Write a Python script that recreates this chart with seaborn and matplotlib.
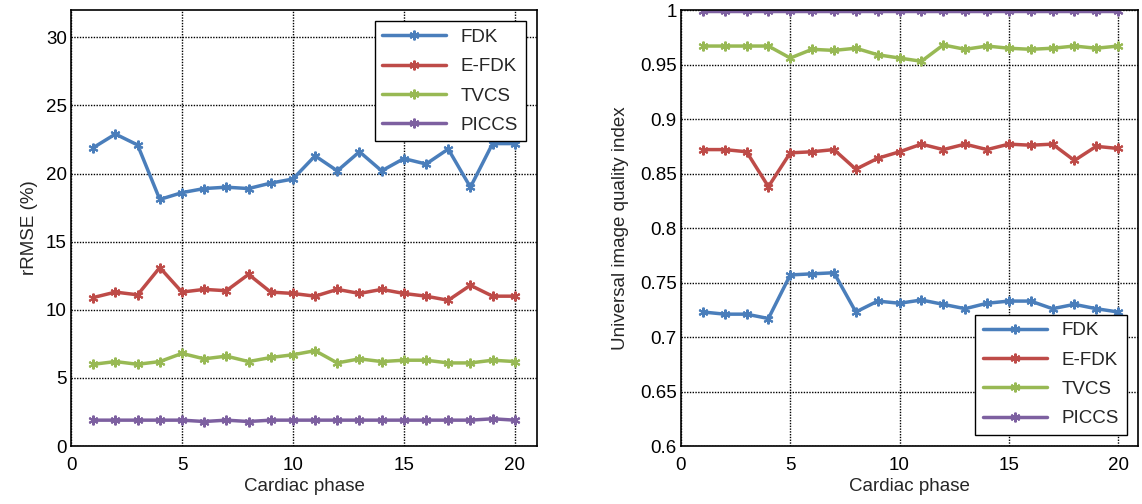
import matplotlib
matplotlib.use("Agg")
import matplotlib.pyplot as plt
import seaborn as sns
import pandas as pd

# Data
phases = list(range(1, 21))
methods = ["FDK", "E-FDK", "TVCS", "PICCS"]
colors = ["#4a7ebb", "#be4b48", "#98b954", "#7d60a0"]

rmse_fdk = [21.9, 22.9, 22.1, 18.1, 18.6, 18.9, 19.0, 18.9, 19.3, 19.6,
            21.3, 20.2, 21.6, 20.2, 21.1, 20.7, 21.8, 19.0, 22.2, 22.2]
rmse_efdk = [10.9, 11.3, 11.1, 13.1, 11.3, 11.5, 11.4, 12.6, 11.3, 11.2,
             11.0, 11.5, 11.2, 11.5, 11.2, 11.0, 10.7, 11.8, 11.0, 11.0]
rmse_tvcs = [6.0, 6.2, 6.0, 6.2, 6.8, 6.4, 6.6, 6.2, 6.5, 6.7,
             7.0, 6.1, 6.4, 6.2, 6.3, 6.3, 6.1, 6.1, 6.3, 6.2]
rmse_piccs = [1.9, 1.9, 1.9, 1.9, 1.9, 1.8, 1.9, 1.8, 1.9, 1.9,
              1.9, 1.9, 1.9, 1.9, 1.9, 1.9, 1.9, 1.9, 2.0, 1.9]

uqi_fdk = [0.723, 0.721, 0.721, 0.717, 0.757, 0.758, 0.759, 0.723, 0.733, 0.731,
           0.734, 0.730, 0.726, 0.731, 0.733, 0.733, 0.726, 0.730, 0.726, 0.723]
uqi_efdk = [0.872, 0.872, 0.870, 0.838, 0.869, 0.870, 0.872, 0.854, 0.864, 0.870,
            0.877, 0.872, 0.877, 0.872, 0.877, 0.876, 0.877, 0.862, 0.875, 0.873]
uqi_tvcs = [0.967, 0.967, 0.967, 0.967, 0.956, 0.964, 0.963, 0.965, 0.959, 0.956,
            0.953, 0.968, 0.964, 0.967, 0.965, 0.964, 0.965, 0.967, 0.965, 0.967]
uqi_piccs = [0.999] * 20

rmse = pd.DataFrame({"phase": phases * 4,
                     "value": rmse_fdk + rmse_efdk + rmse_tvcs + rmse_piccs,
                     "method": sum([[m] * 20 for m in methods], [])})
uqi = pd.DataFrame({"phase": phases * 4,
                    "value": uqi_fdk + uqi_efdk + uqi_tvcs + uqi_piccs,
                    "method": sum([[m] * 20 for m in methods], [])})

sns.set_style("white")
plt.rcParams["font.family"] = ["Liberation Sans", "DejaVu Sans"]
FS = 13.5

fig = plt.figure(figsize=(11.42, 5.04), dpi=100)
ax1 = fig.add_axes([0.0622, 0.115, 0.408, 0.865])
ax2 = fig.add_axes([0.5963, 0.115, 0.4, 0.865])


def draw(ax, df):
    for m, c in zip(methods, colors):
        sns.lineplot(data=df[df["method"] == m], x="phase", y="value", ax=ax,
                     color=c, linewidth=2.5, marker=(6, 2, 0), markersize=7,
                     markeredgecolor=c, markeredgewidth=1.5, label=m)
    ax.grid(True, color="black", linestyle=(0, (1, 1)), linewidth=1.0)
    ax.set_axisbelow(True)
    for s in ax.spines.values():
        s.set_color("black")
        s.set_linewidth(1.2)
    ax.tick_params(labelsize=FS, direction="in", length=4, colors="black", pad=3)
    ax.tick_params(axis="x", pad=8)
    ax.set_xticks([0, 5, 10, 15, 20])
    ax.set_xlabel("Cardiac phase", fontsize=FS, labelpad=3)


draw(ax1, rmse)
ax1.set_xlim(0, 21)
ax1.set_ylim(0, 32)
ax1.set_yticks([0, 5, 10, 15, 20, 25, 30])
ax1.set_ylabel("rRMSE (%)", fontsize=FS, labelpad=6)
leg = ax1.legend(loc="upper right", fontsize=FS, frameon=True, fancybox=False,
                 edgecolor="black", framealpha=1, handlelength=3.4,
                 borderaxespad=0.6, labelspacing=0.65)
leg.get_frame().set_linewidth(1.0)

draw(ax2, uqi)
ax2.set_xlim(0, 20.9)
ax2.set_ylim(0.6, 1.0)
ax2.set_yticks([0.6, 0.65, 0.7, 0.75, 0.8, 0.85, 0.9, 0.95, 1.0])
ax2.set_yticklabels(["0.6", "0.65", "0.7", "0.75", "0.8", "0.85", "0.9", "0.95", "1"])
ax2.set_ylabel("Universal image quality index", fontsize=FS, labelpad=8)
leg = ax2.legend(loc="lower right", fontsize=FS, frameon=True, fancybox=False,
                 edgecolor="black", framealpha=1, handlelength=3.4,
                 borderaxespad=0.6, labelspacing=0.65)
leg.get_frame().set_linewidth(1.0)

fig.savefig("out.png", dpi=100)
